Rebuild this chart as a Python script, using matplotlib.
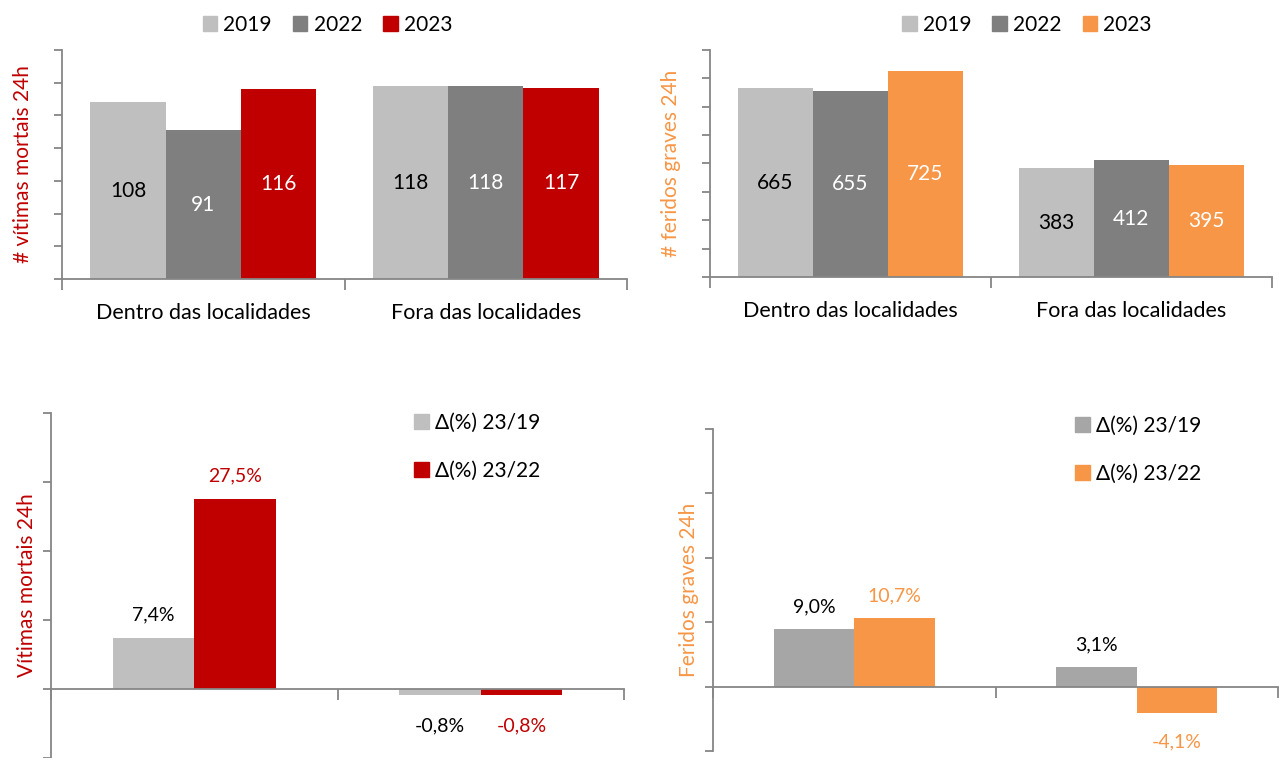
import numpy as np
import matplotlib.pyplot as plt
from matplotlib.patches import Patch

plt.rcParams['font.family'] = ['Lato', 'DejaVu Sans']

categorias = ['Dentro das localidades', 'Fora das localidades']
anos = ['2019', '2022', '2023']
mortos = {'2019': [108, 118], '2022': [91, 118], '2023': [116, 117]}
feridos = {'2019': [665, 383], '2022': [655, 412], '2023': [725, 395]}
delta_labels = ['Δ(%) 23/19', 'Δ(%) 23/22']
delta_mortos = {'Δ(%) 23/19': [7.4, -0.8], 'Δ(%) 23/22': [27.5, -0.8]}
delta_feridos = {'Δ(%) 23/19': [9.0, 3.1], 'Δ(%) 23/22': [10.7, -4.1]}

LGRAY = '#BFBFBF'
DGRAY = '#7F7F7F'
MGRAY = '#A6A6A6'
RED = '#C00000'
ORANGE = '#F79646'
AXC = '#868686'

fig = plt.figure(figsize=(12.79, 7.58), dpi=100)


def style_axes(ax):
    for s in ['top', 'right']:
        ax.spines[s].set_visible(False)
    for s in ['left', 'bottom']:
        ax.spines[s].set_color(AXC)
        ax.spines[s].set_linewidth(1.3)
    ax.tick_params(axis='y', which='both', direction='out', length=6,
                   color=AXC, width=1.3, labelleft=False)
    ax.set_xticks([-0.5, 0.5, 1.5], minor=True)
    ax.tick_params(axis='x', which='minor', direction='out', length=8,
                   color=AXC, width=1.3)
    ax.set_xlim(-0.5, 1.5)


def top_chart(rect, data, colors, txtcolors, ymax, ystep, ylabel, ycol, legx):
    ax = fig.add_axes(rect)
    x = np.arange(len(categorias))
    w = 0.8 / 3
    for i, a in enumerate(anos):
        bars = ax.bar(x + (i - 1) * w, data[a], w, color=colors[i], zorder=2)
        for b, v in zip(bars, data[a]):
            ax.text(b.get_x() + b.get_width() / 2, v / 2, str(v),
                    ha='center', va='center', fontsize=15, color=txtcolors[i])
    style_axes(ax)
    ax.set_ylim(0, ymax)
    ax.set_yticks(np.arange(0, ymax + 1, ystep))
    ax.set_xticks(x)
    ax.set_xticklabels(categorias, fontsize=15.5)
    ax.tick_params(axis='x', which='major', length=0, pad=17)
    ax.set_ylabel(ylabel, color=ycol, fontsize=15, labelpad=15)
    handles = [Patch(color=c) for c in colors]
    fig.legend(handles, anos, loc='center', bbox_to_anchor=(legx, 0.967),
               ncol=3, frameon=False, fontsize=15, handlelength=0.7,
               handleheight=0.7, handletextpad=0.3, columnspacing=1.0)
    return ax


def bottom_chart(rect, data, colors, labcolors, ymin, ylabel, ycol, legpos):
    ax = fig.add_axes(rect)
    x = np.arange(len(categorias))
    w = 0.285
    for i, k in enumerate(delta_labels):
        off = (i - 0.5) * w
        bars = ax.bar(x + off, data[k], w, color=colors[i], zorder=2)
        for b, v in zip(bars, data[k]):
            y = v + 3.4 if v >= 0 else v - 4.5
            ax.text(b.get_x() + b.get_width() / 2, y,
                    ('%.1f%%' % v).replace('.', ','),
                    ha='center', va='center', fontsize=14, color=labcolors[i])
    style_axes(ax)
    ax.spines['bottom'].set_position(('data', 0))
    ax.set_ylim(ymin, 40)
    ax.set_yticks(np.arange(-10, 41, 10))
    ax.set_xticks([])
    ax.set_ylabel(ylabel, color=ycol, fontsize=15, labelpad=4)
    handles = [Patch(color=c) for c in colors]
    fig.legend(handles, delta_labels, loc='upper left', bbox_to_anchor=legpos,
               frameon=False, fontsize=15, handlelength=0.7,
               handleheight=0.7, handletextpad=0.3, labelspacing=1.35)
    return ax


top_chart([0.0485, 0.6319, 0.4418, 0.3021], mortos, [LGRAY, DGRAY, RED],
          ['black', 'white', 'white'], 140, 20, '# vítimas mortais 24h', RED, 0.256)
top_chart([0.5551, 0.6346, 0.4394, 0.2995], feridos, [LGRAY, DGRAY, ORANGE],
          ['black', 'white', 'white'], 800, 100, '# feridos graves 24h', ORANGE, 0.803)

bottom_chart([0.0399, 0.0, 0.448, 0.4551], delta_mortos, [LGRAY, RED],
             ['black', RED], -9.46, 'Vítimas mortais 24h', RED, (0.309, 0.48))
bottom_chart([0.5575, 0.0092, 0.4418, 0.4248], delta_feridos, [MGRAY, ORANGE],
             ['black', ORANGE], -10, 'Feridos graves 24h', ORANGE, (0.826, 0.476))

fig.savefig('out.png', dpi=100)
